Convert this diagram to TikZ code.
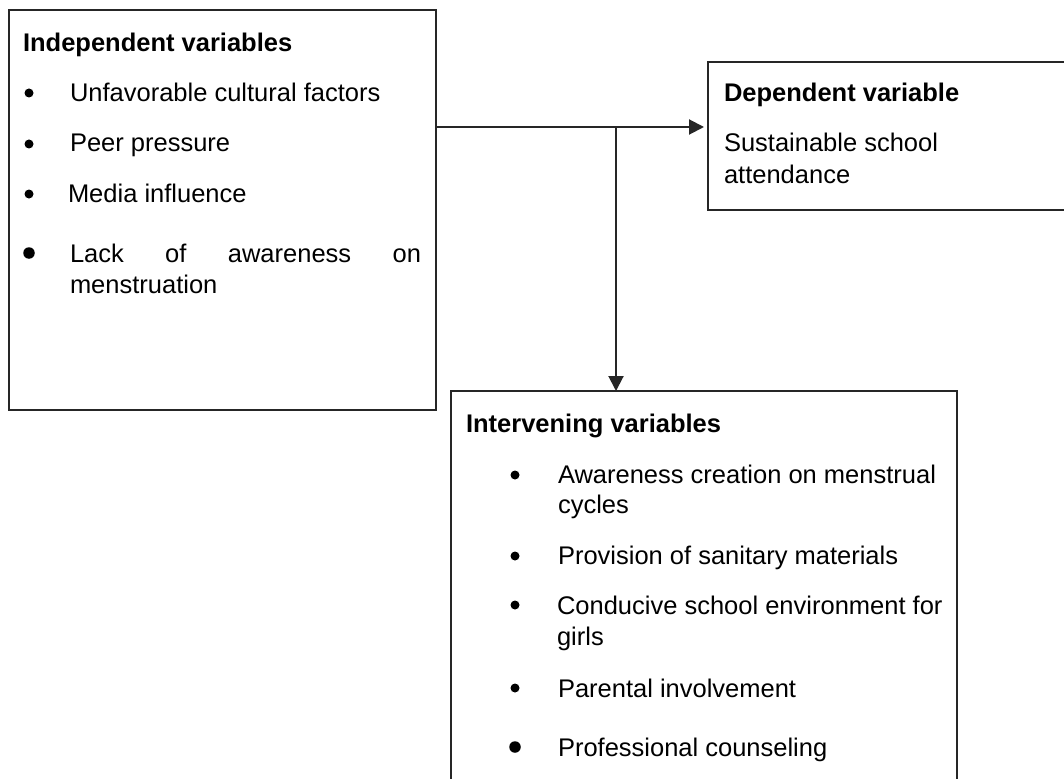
\documentclass[tikz,border=0pt]{standalone}
\usepackage{fontspec}
\setmainfont{Liberation Sans}
\usetikzlibrary{arrows.meta}
\begin{document}
\begin{tikzpicture}[x=1pt,y=-1pt,
  box/.style={draw=black!85,line width=1.9pt,anchor=north west,inner sep=0,outer sep=0},
  txt/.style={anchor=base west,inner sep=0,outer sep=0,font=\fontsize{25.5}{31}\selectfont},
  head/.style={txt,font=\fontsize{25.5}{31}\selectfont\bfseries},
  bul/.style={circle,fill=black,inner sep=0,minimum size=9pt},
  bigbul/.style={circle,fill=black,inner sep=0,minimum size=11.5pt},
  conn/.style={draw=black!85,line width=2pt},
  tip/.style={-{Triangle[length=15pt,width=15pt]}}]
\useasboundingbox (0,0) rectangle (1064,778);
\fill[white] (0,0) rectangle (1064,778);
% boxes
\node[box,minimum width=427pt,minimum height=400pt] (ind) at (9,10) {};
\node[box,minimum width=370pt,minimum height=148pt] (dep) at (708,62) {};
\node[box,minimum width=506pt,minimum height=400pt] (int) at (451,391) {};
% independent
\node[head] (indh) at (23,52) {Independent variables};
\node[bul] (ib1) at (29,93) {};
\node[txt] (it1) at (70,102) {Unfavorable cultural factors};
\node[bul] (ib2) at (29,144) {};
\node[txt] (it2) at (70,152) {Peer pressure};
\node[bul] (ib3) at (29,194) {};
\node[txt] (it3) at (68,202) {Media influence};
\node[bigbul] (ib4) at (29,253) {};
\node[txt] (it4) at (70,262) {\makebox[351pt][s]{Lack of awareness on}};
\node[txt] (it4b) at (70,293) {menstruation};
% dependent
\node[head] (deph) at (724,102) {Dependent variable};
\node[txt] (dt1) at (724,152) {Sustainable school};
\node[txt] (dt2) at (724,183) {attendance};
% intervening
\node[head] (inth) at (466,432) {Intervening variables};
\node[bul] (nb1) at (515,475) {};
\node[txt] (nt1) at (558,483) {Awareness creation on menstrual};
\node[txt] (nt1b) at (558,513) {cycles};
\node[bul] (nb2) at (515,556) {};
\node[txt] (nt2) at (558,564) {Provision of sanitary materials};
\node[bul] (nb3) at (515,605) {};
\node[txt] (nt3) at (557,614) {Conducive school environment for};
\node[txt] (nt3b) at (557,645) {girls};
\node[bul] (nb4) at (515,688) {};
\node[txt] (nt4) at (558,697) {Parental involvement};
\node[bigbul] (nb5) at (515,747) {};
\node[txt] (nt5) at (558,756) {Professional counseling};
% connectors
\coordinate (j) at (616,127);
\draw[conn,tip,shorten >=4pt] (ind.east |- j) -- (dep.west |- j);
\draw[conn,tip] (j) -- (int.north -| j);
\end{tikzpicture}
\end{document}
